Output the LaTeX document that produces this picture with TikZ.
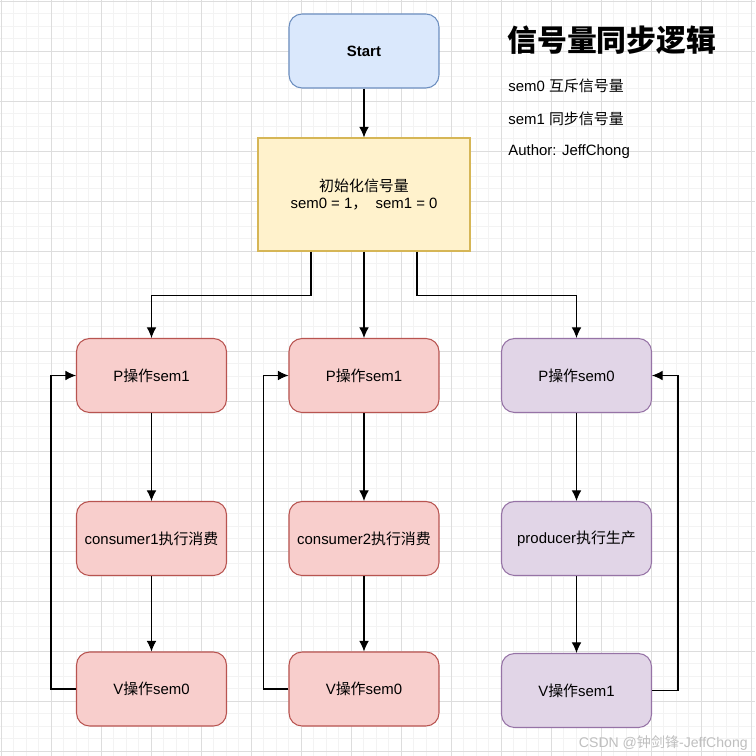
\documentclass[tikz,border=0pt]{standalone}
\usepackage{fontspec}
\setmainfont{Liberation Sans}
\newfontfamily\cjk{Noto Sans CJK SC}
\usepackage{tikz}
\usetikzlibrary{arrows.meta,positioning}

\definecolor{bluefill}{HTML}{DAE8FC}
\definecolor{blueline}{HTML}{6C8EBF}
\definecolor{yellowfill}{HTML}{FFF2CC}
\definecolor{yellowline}{HTML}{D6B656}
\definecolor{redfill}{HTML}{F8CECC}
\definecolor{redline}{HTML}{B85450}
\definecolor{purplefill}{HTML}{E1D5E7}
\definecolor{purpleline}{HTML}{9673A6}
\definecolor{gridminor}{HTML}{F3F3F3}
\definecolor{gridmajor}{HTML}{DDDDDD}

\begin{document}
\begin{tikzpicture}[x=0.02cm,y=-0.02cm,
    box/.style={draw,line width=0.6pt,rounded corners=0.26cm,minimum width=3cm,minimum height=1.48cm,
        inner sep=0pt,font=\fontsize{8.5}{10}\selectfont},
    redbox/.style={box,fill=redfill,draw=redline},
    purplebox/.style={box,fill=purplefill,draw=purpleline},
    flow/.style={-{Latex[length=6pt,width=5.5pt]},line width=0.6pt},
    note/.style={anchor=west,inner sep=0pt,font=\fontsize{8.5}{10}\selectfont}]
            \useasboundingbox (0,0) rectangle (755,756);
            \fill[white] (0,0) rectangle (755,756);

            % background grid
            \foreach \k in {0,...,60} {
                \draw[gridminor,line width=0.5pt] (1+12.5*\k,0) -- (1+12.5*\k,756);
                \draw[gridminor,line width=0.5pt] (0,1+12.5*\k) -- (755,1+12.5*\k);
            }
            \foreach \k in {0,...,15} {
                \draw[gridmajor,line width=0.5pt] (1+50*\k,0) -- (1+50*\k,756);
                \draw[gridmajor,line width=0.5pt] (0,1+50*\k) -- (755,1+50*\k);
            }

            % start and init
            \node[box,fill=bluefill,draw=blueline,font=\fontsize{8.5}{10}\selectfont\bfseries] (start) at (364,51) {Start};
            \node[box,rounded corners=0pt,fill=yellowfill,draw=yellowline,minimum width=4.24cm,minimum height=2.26cm,align=center] (init) at (364,194.5)
                {{\cjk 初始化信号量}\\sem0 = 1{\cjk ，}\ \ sem1 = 0};

            % consumer1
            \node[redbox] (p1) at (151.5,375.5) {P{\cjk 操作}sem1};
            \node[redbox] (c1) at (151.5,538.5) {consumer1{\cjk 执行消费}};
            \node[redbox] (v1) at (151.5,689) {V{\cjk 操作}sem0};

            % consumer2
            \node[redbox] (p2) at (364,375.5) {P{\cjk 操作}sem1};
            \node[redbox] (c2) at (364,538.5) {consumer2{\cjk 执行消费}};
            \node[redbox] (v2) at (364,689) {V{\cjk 操作}sem0};

            % producer
            \node[purplebox] (p3) at (576.5,375.5) {P{\cjk 操作}sem0};
            \node[purplebox] (c3) at (576.5,538.5) {producer{\cjk 执行生产}};
            \node[purplebox] (v3) at (576.5,690.5) {V{\cjk 操作}sem1};

            % arrows
            \draw[flow] (start) -- (init);
            \draw[flow] ([xshift=-1.06cm]init.south) -- ++(0,44) -| (p1.north);
            \draw[flow] (init) -- (p2);
            \draw[flow] ([xshift=1.06cm]init.south) -- ++(0,44) -| (p3.north);

            \draw[flow] (p1) -- (c1);
            \draw[flow] (c1) -- (v1);
            \draw[flow] (v1.west) -- ++(-25,0) |- (p1.west);

            \draw[flow] (p2) -- (c2);
            \draw[flow] (c2) -- (v2);
            \draw[flow] (v2.west) -- ++(-25,0) |- (p2.west);

            \draw[flow] (p3) -- (c3);
            \draw[flow] (c3) -- (v3);
            \draw[flow] (v3.east) -- ++(26,0) |- (p3.east);

            % legend
            \node[note,font=\fontsize{17}{20}\selectfont\bfseries] (title) at (507,40) {\cjk 信号量同步逻辑};
            \node[note] (sem0) at (508,86) {sem0 {\cjk 互斥信号量}};
            \node[note] (sem1) at (508,119) {sem1 {\cjk 同步信号量}};
            \node[note] (author) at (508,152) {Author: JeffChong};

            \node[anchor=east,inner sep=0pt,text=black!25,font=\fontsize{8}{10}\selectfont] (mark) at (748,743) {CSDN @{\cjk 钟剑锋}-JeffChong};

        \end{tikzpicture}
\end{document}
